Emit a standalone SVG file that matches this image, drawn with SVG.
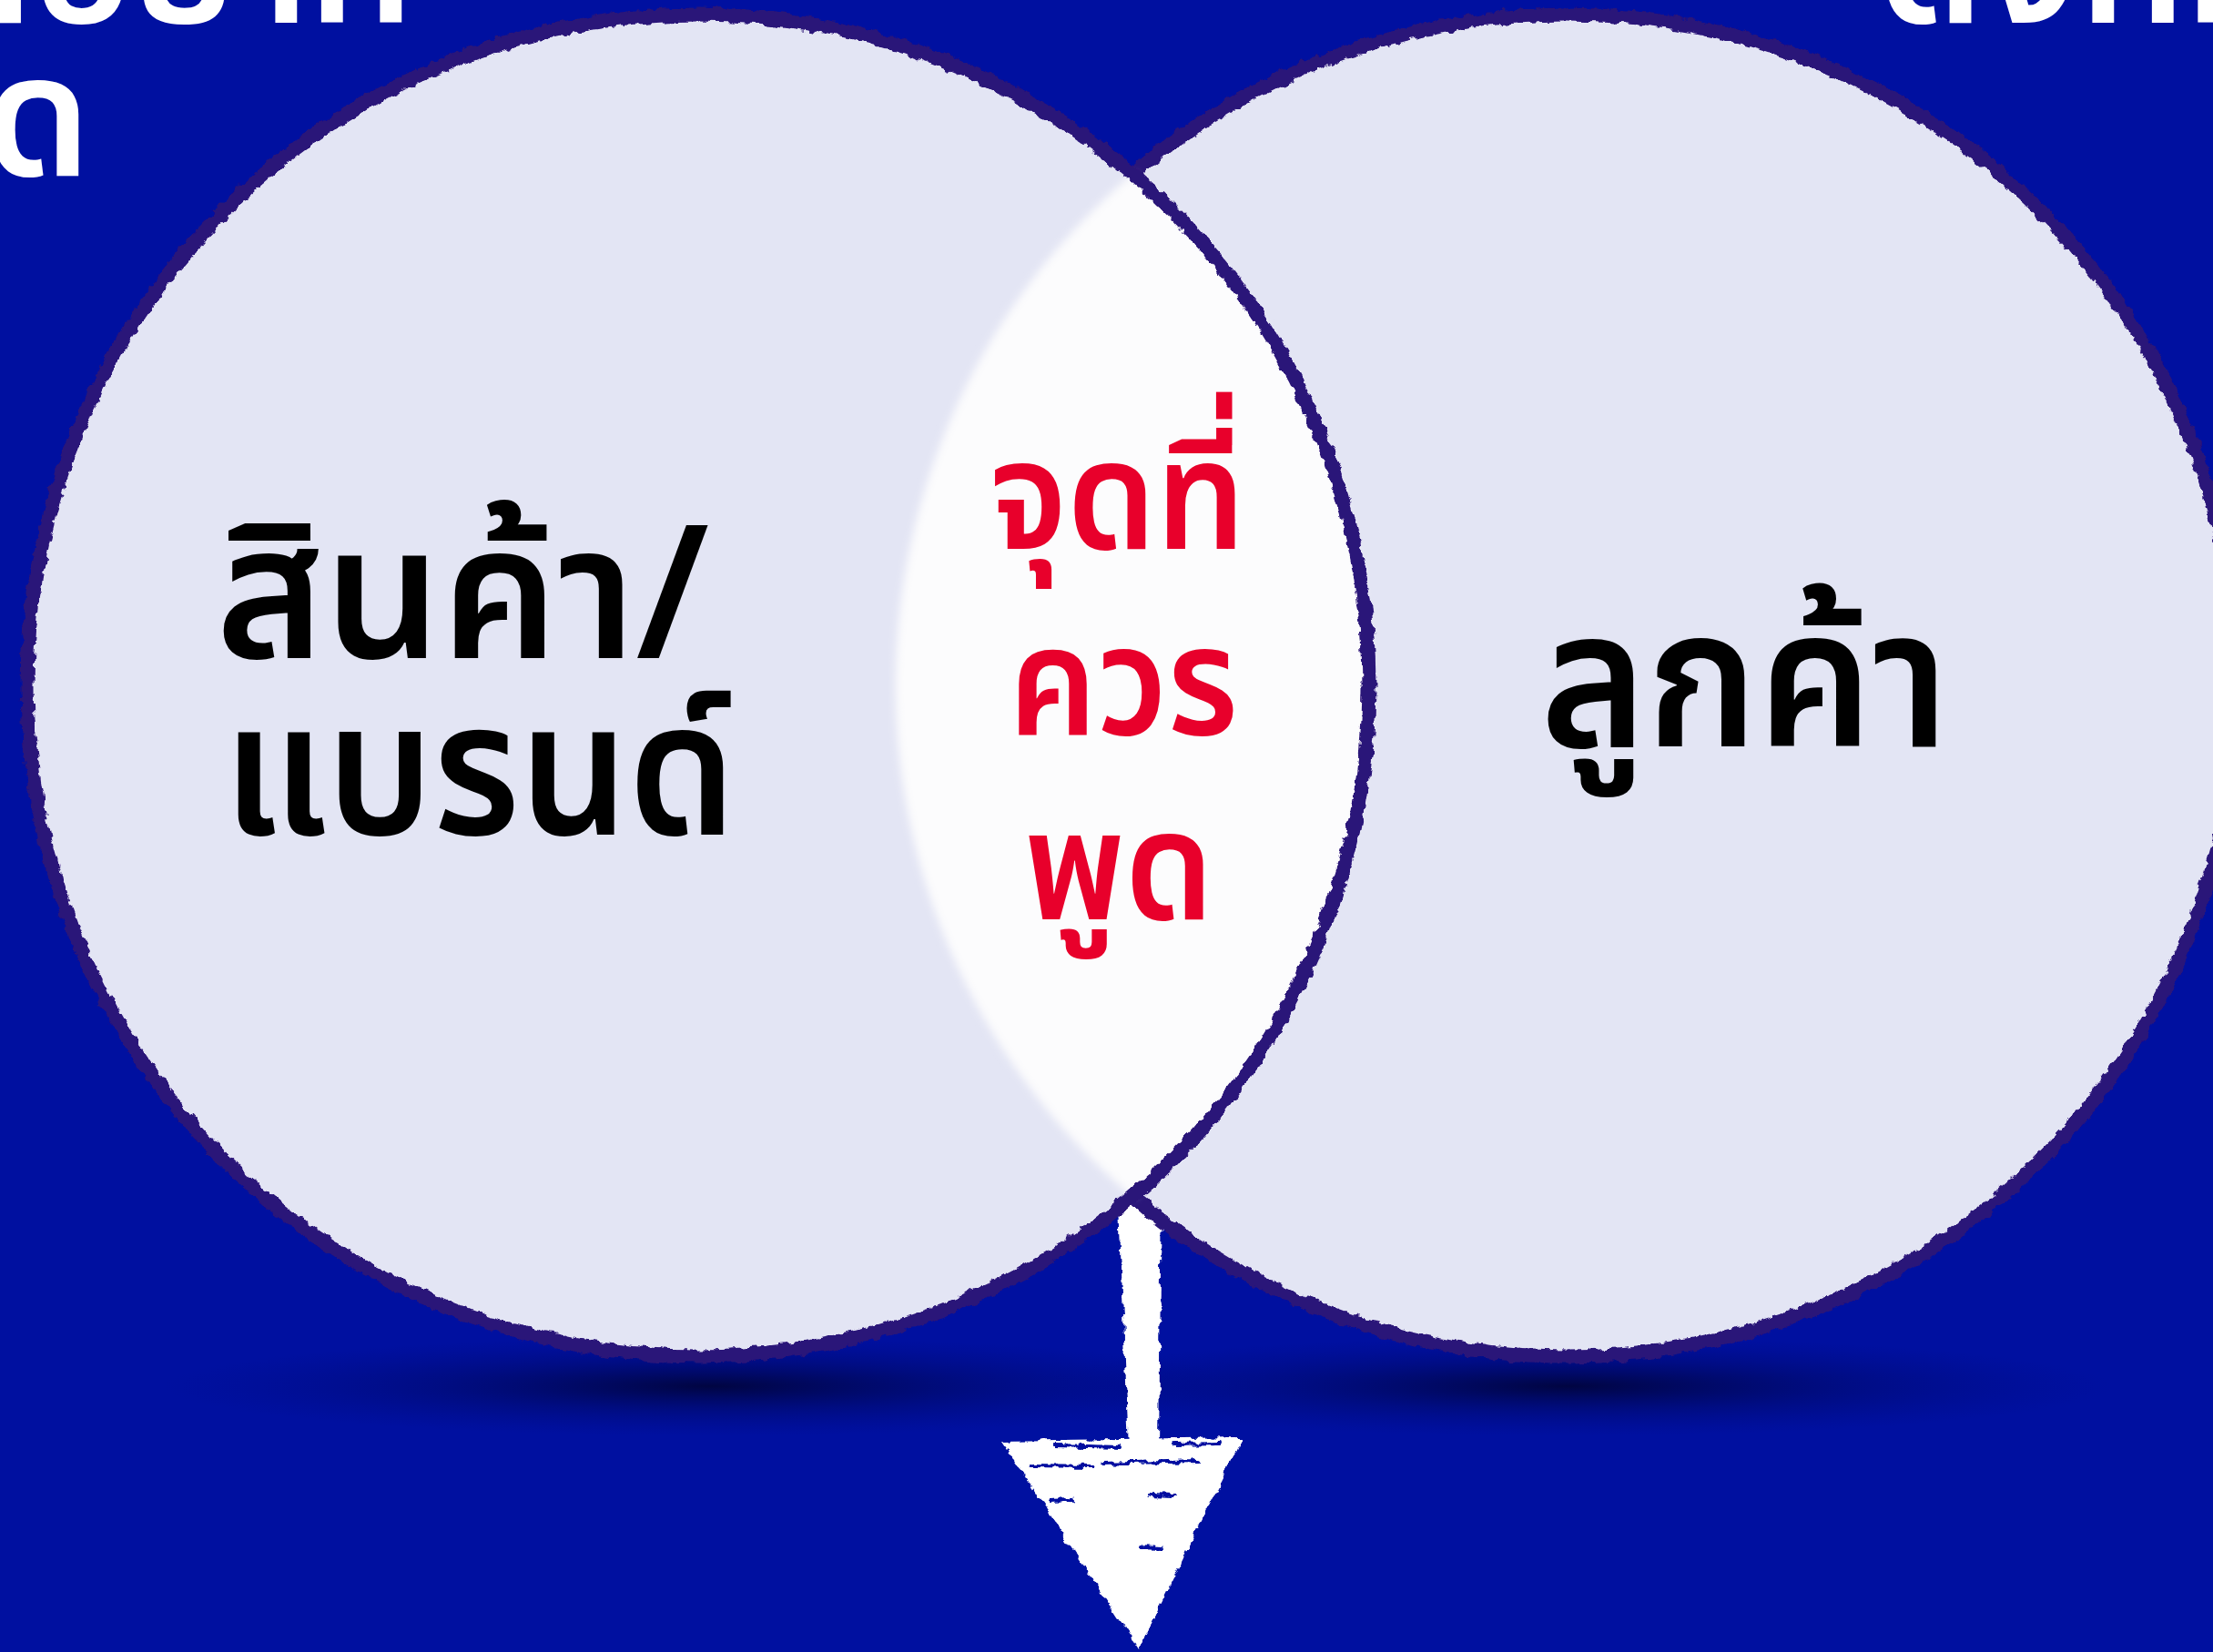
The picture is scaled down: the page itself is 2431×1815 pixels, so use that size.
<svg xmlns="http://www.w3.org/2000/svg" width="2431" height="1815" viewBox="0 0 2431 1815">
<defs>
<style>
.th{font-family:"Noto Sans Thai","Noto Sans Thai UI","Noto Sans","Liberation Sans",sans-serif;font-weight:600}
.blk{fill:#000000}
.red{fill:#e8002b}
.wht{fill:#ffffff}
.disc{fill:#e3e5f4}
.ring{fill:none;stroke:#2c1479;stroke-width:15}
.streak{stroke:#0010a0;stroke-width:4;stroke-linecap:round;fill:none}
</style>
<filter id="rough" x="-5%" y="-5%" width="110%" height="110%">
<feTurbulence type="fractalNoise" baseFrequency="0.09" numOctaves="3" seed="3" result="n"/>
<feDisplacementMap in="SourceGraphic" in2="n" scale="9" xChannelSelector="R" yChannelSelector="G"/>
</filter>
<filter id="soft" x="-10%" y="-10%" width="120%" height="120%"><feGaussianBlur stdDeviation="5"/></filter>
<radialGradient id="sh" cx="50%" cy="50%" r="50%">
<stop offset="0" stop-color="#00043c" stop-opacity="0.95"/>
<stop offset="0.5" stop-color="#000860" stop-opacity="0.45"/>
<stop offset="1" stop-color="#000a80" stop-opacity="0"/>
</radialGradient>
</defs>
<rect width="2431" height="1815" fill="#0010a0"/>
<g id="shadows">
<ellipse cx="780" cy="1523" rx="600" ry="55" fill="url(#sh)"/>
<ellipse cx="1721" cy="1523" rx="600" ry="55" fill="url(#sh)"/>
</g>
<g id="titles">
<text class="th wht" x="455" y="25" font-size="187" text-anchor="end">สิ่งที่แบรนด์อยาก</text>
<text class="th wht" x="100" y="193" font-size="187" text-anchor="end">พูด</text>
<text class="th wht" x="2062" y="25" font-size="187">ดังที่กล่าว</text>
</g>
<g id="connectors">
<g id="arrow" filter="url(#rough)">
<polygon fill="#ffffff" points="1228,1300 1276,1300 1273,1592 1240,1592"/>
<polygon fill="#ffffff" points="1100,1583 1365,1579 1251,1812"/>
<path class="streak" d="M1133,1610 L1200,1611 M1212,1608 L1315,1605 M1153,1648 L1178,1647 M1262,1642 L1290,1643 M1252,1700 L1276,1701 M1160,1588 L1230,1590 M1290,1587 L1340,1586"/>
</g>
</g>
<g id="right-circle">
<circle class="disc" cx="1721" cy="753" r="737" filter="url(#rough)"/>
<circle class="ring" cx="1721" cy="753" r="737" filter="url(#rough)"/>
<text class="th blk" x="1692" y="820" font-size="213" textLength="449" lengthAdjust="spacingAndGlyphs">ลูกค้า</text>
</g>
<g id="left-circle">
<circle class="disc" cx="767" cy="753" r="737" filter="url(#rough)"/>
<text class="th blk" x="237" y="723" font-size="205" textLength="542" lengthAdjust="spacingAndGlyphs">สินค้า/</text>
<text class="th blk" x="245" y="917" font-size="205" textLength="563" lengthAdjust="spacingAndGlyphs">แบรนด์</text>
</g>
<g id="overlap">
<path fill="#fcfcfd" filter="url(#soft)" d="M1244,191 A737,737 0 0 0 1244,1315 A737,737 0 0 0 1244,191 Z"/>
<text class="th red" x="1087" y="603" font-size="168" textLength="281" lengthAdjust="spacingAndGlyphs">จุดที่</text>
<text class="th red" x="1108" y="807" font-size="168" textLength="252" lengthAdjust="spacingAndGlyphs">ควร</text>
<text class="th red" x="1125" y="1010" font-size="168" textLength="208" lengthAdjust="spacingAndGlyphs">พูด</text>
</g>
<g id="left-ring">
<circle class="ring" cx="767" cy="753" r="737" filter="url(#rough)"/>
</g>
</svg>
